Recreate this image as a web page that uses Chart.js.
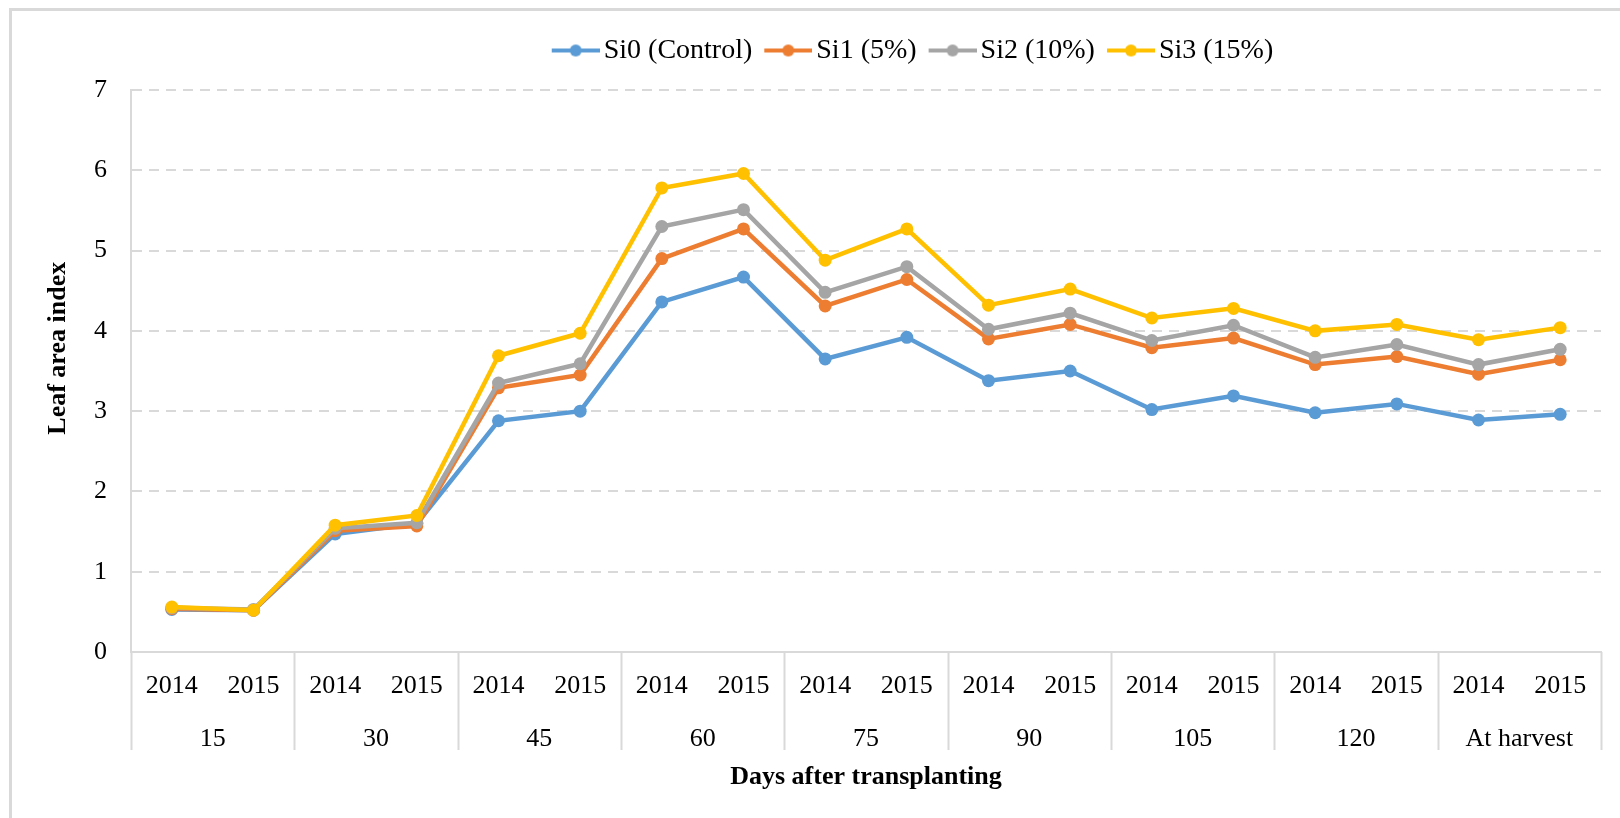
<!DOCTYPE html>
<html>
<head>
<meta charset="utf-8">
<title>Leaf area index</title>
<script src="https://cdn.jsdelivr.net/npm/chart.js@4.4.1/dist/chart.umd.min.js"></script>
<style>
  html, body { margin: 0; padding: 0; background: #fff; }
  #wrap { position: relative; width: 1620px; height: 818px; overflow: hidden; }
  #wrap canvas { position: absolute; left: 0; top: 0; }
  #frame {
    position: absolute; left: 9px; top: 8px; width: 1700px; height: 900px;
    border-left: 3px solid #d9d9d9; border-top: 3px solid #d9d9d9;
    pointer-events: none;
  }
</style>
</head>
<body>
<div id="wrap">
  <canvas id="chart" width="1620" height="818"></canvas>
  <div id="frame"></div>
</div>
<script>
const groupLabels = ["15", "30", "45", "60", "75", "90", "105", "120", "At harvest"];
const yearLabels = ["2014", "2015", "2014", "2015", "2014", "2015", "2014", "2015", "2014",
                    "2015", "2014", "2015", "2014", "2015", "2014", "2015", "2014", "2015"];

const si0 = [0.53, 0.52, 1.47, 1.60, 2.88, 3.00, 4.36, 4.67, 3.65, 3.92, 3.38, 3.50, 3.02, 3.19, 2.98, 3.09, 2.89, 2.96];
const si1 = [0.54, 0.52, 1.51, 1.57, 3.29, 3.45, 4.90, 5.27, 4.31, 4.64, 3.90, 4.08, 3.79, 3.91, 3.58, 3.68, 3.46, 3.64];
const si2 = [0.55, 0.53, 1.54, 1.61, 3.35, 3.59, 5.30, 5.51, 4.48, 4.80, 4.02, 4.22, 3.88, 4.07, 3.67, 3.83, 3.58, 3.77];
const si3 = [0.56, 0.52, 1.58, 1.70, 3.69, 3.97, 5.78, 5.96, 4.88, 5.27, 4.32, 4.52, 4.16, 4.28, 4.00, 4.08, 3.89, 4.04];

const seriesNames = ["Si0 (Control)", "Si1 (5%)", "Si2 (10%)", "Si3 (15%)"];
const seriesColors = ["#5B9BD5", "#ED7D31", "#A5A5A5", "#FFC000"];

const SERIF = "'Liberation Serif', 'Times New Roman', serif";
const GRID = "#d9d9d9";

// little line + dot image used as the legend marker
function legendMark(color){
  const c = document.createElement("canvas");
  c.width = 50;
  c.height = 16;
  const g = c.getContext("2d");
  g.strokeStyle = color;
  g.lineWidth = 4;
  g.beginPath();
  g.moveTo(2, 8);
  g.lineTo(50, 8);
  g.stroke();
  g.fillStyle = color;
  g.beginPath();
  g.arc(26, 8, 6, 0, Math.PI * 2);
  g.fill();
  return c;
}
const marks = seriesColors.map(legendMark);

function makeDataset(i, values){
  return {
    label: seriesNames[i],
    data: values,
    borderColor: seriesColors[i],
    backgroundColor: seriesColors[i],
    borderWidth: 4.5,
    pointRadius: 6.5,
    pointHoverRadius: 6.5,
    pointBorderWidth: 0,
    tension: 0,
    order: 4 - i
  };
}

// vertical separators between the day groups, through both label rows
const groupSeparators = {
  id: "groupSeparators",
  afterDraw(chart){
    const xs = chart.scales.x;
    const x2 = chart.scales.x2;
    const ctx = chart.ctx;
    const n = groupLabels.length;
    const step = (xs.right - xs.left) / n;
    ctx.save();
    ctx.strokeStyle = GRID;
    ctx.lineWidth = 2;
    for(let i = 0; i <= n; i++){
      const px = Math.round(xs.left + i * step) + 0.5;
      ctx.beginPath();
      ctx.moveTo(px, chart.chartArea.bottom);
      ctx.lineTo(px, x2.top + 42);
      ctx.stroke();
    }
    ctx.restore();
  }
};

// move the legend to where the original sits
const legendNudge = {
  id: "legendNudge",
  afterLayout(chart){
    const lg = chart.legend;
    const dx = 116, dy = -15.5;
    lg.left += dx; lg.right += dx;
    lg.top += dy; lg.bottom += dy;
  }
};

const ctx = document.getElementById("chart").getContext("2d");
new Chart(ctx, {
  type: "line",
  data: {
    labels: yearLabels,
    datasets: [
      makeDataset(0, si0),
      makeDataset(1, si1),
      makeDataset(2, si2),
      makeDataset(3, si3)
    ]
  },
  options: {
    responsive: false,
    animation: false,
    layout: { padding: { top: 32, right: 19, bottom: 0, left: 0 } },
    plugins: {
      tooltip: { enabled: false },
      legend: {
        position: "top",
        labels: {
          usePointStyle: true,
          pointStyleWidth: 30,
          padding: 20,
          color: "#000",
          font: { family: SERIF, size: 28 },
          generateLabels: (chart) => chart.data.datasets.map((ds, i) => ({
            text: ds.label,
            fillStyle: ds.borderColor,
            strokeStyle: ds.borderColor,
            lineWidth: 0,
            pointStyle: marks[i],
            fontColor: "#000",
            hidden: !chart.isDatasetVisible(i),
            datasetIndex: i
          }))
        }
      }
    },
    scales: {
      y: {
        min: 0,
        max: 7,
        ticks: { stepSize: 1, color: "#000", padding: 24, font: { family: SERIF, size: 26 } },
        grid: { color: GRID, lineWidth: 2, drawTicks: false },
        border: { display: true, color: GRID, width: 2, dash: [10, 7] },
        title: {
          display: true,
          // leading spaces lift the title a little, as in the original
          text: "       Leaf area index",
          color: "#000",
          font: { family: SERIF, size: 26, weight: "bold" },
          padding: { top: 43, bottom: 0 }
        },
        afterFit: (scale) => { scale.width = 131; }
      },
      x: {
        offset: true,
        weight: 0,
        ticks: { autoSkip: false, maxRotation: 0, color: "#000", padding: 10.5, font: { family: SERIF, size: 26 } },
        grid: { display: false },
        border: { display: true, color: GRID, width: 2 },
        afterFit: (scale) => { scale.height = 56; }
      },
      x2: {
        type: "category",
        position: "bottom",
        labels: groupLabels,
        offset: true,
        weight: 1,
        ticks: { autoSkip: false, maxRotation: 0, color: "#000", padding: 7.5, font: { family: SERIF, size: 26 } },
        grid: { display: false },
        border: { display: false },
        title: {
          display: true,
          text: "Days after transplanting",
          color: "#000",
          font: { family: SERIF, size: 26, weight: "bold" },
          padding: { top: 0, bottom: 25 }
        },
        afterFit: (scale) => { scale.height = 110; }
      }
    }
  },
  plugins: [groupSeparators, legendNudge]
});
</script>
</body>
</html>
